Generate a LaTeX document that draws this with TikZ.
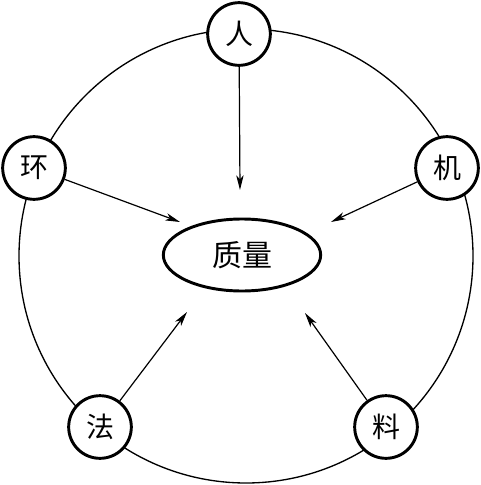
\documentclass[tikz,border=0pt]{standalone}
\usepackage{fontspec}
\newfontfamily\cjk{Noto Sans CJK SC}
\usetikzlibrary{arrows.meta,shapes.geometric}
\begin{document}
\begin{tikzpicture}[x=0.75pt,y=-0.75pt,
  factor/.style={circle,draw,line width=2.2pt,fill=white,minimum size=47pt,inner sep=0pt,font=\cjk\fontsize{21}{21}\selectfont},
  center/.style={ellipse,draw,line width=2.2pt,fill=white,minimum width=118pt,minimum height=54pt,inner sep=0pt,font=\cjk\fontsize{22.5}{22.5}\selectfont},
  arr/.style={line width=0.9pt,-{Stealth[length=11pt,width=5.5pt,inset=3pt]}}]
\useasboundingbox (0,0) rectangle (481,485);
\draw[line width=1pt] (246,256) circle (170.25pt);
\node[center] (q) at (242,255) {质量};
\node[factor] (ren) at (239,34) {人};
\node[factor] (huan) at (34,168) {环};
\node[factor] (ji) at (447,168) {机};
\node[factor] (fa) at (100,427) {法};
\node[factor] (liao) at (386,427) {料};
\coordinate (tA) at (240,190);
\coordinate (tB) at (180,222);
\coordinate (tC) at (331,222);
\coordinate (tD) at (187,312);
\coordinate (tE) at (305,313);
\draw[arr] (ren) -- (tA);
\draw[arr] (huan) -- (tB);
\draw[arr] (ji) -- (tC);
\draw[arr] (fa) -- (tD);
\draw[arr] (liao) -- (tE);
\end{tikzpicture}
\end{document}
